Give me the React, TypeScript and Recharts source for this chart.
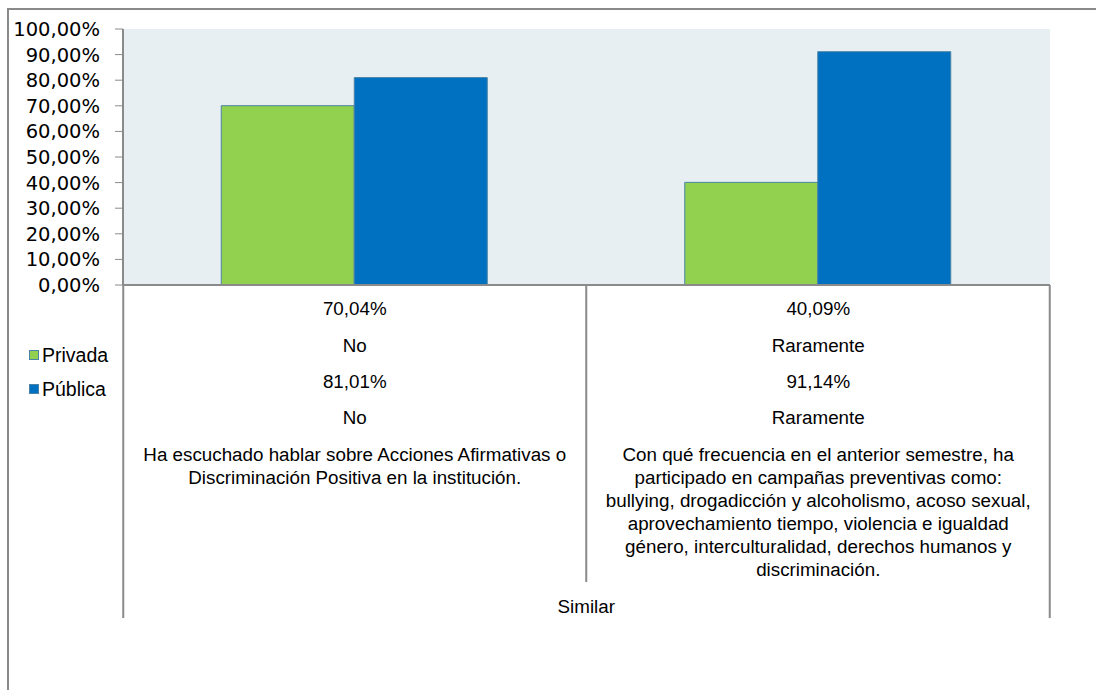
import { BarChart, Bar, XAxis, YAxis, CartesianGrid } from 'recharts'

const categories = ['Acciones Afirmativas', 'Campañas preventivas']
const privada = [70.04, 40.09]
const publica = [81.01, 91.14]
const privadaAnswer = ['No', 'Raramente']
const publicaAnswer = ['No', 'Raramente']
const questionLines = [
  [
    'Ha escuchado hablar sobre Acciones Afirmativas o',
    'Discriminación Positiva en la institución.',
  ],
  [
    'Con qué frecuencia en el anterior semestre, ha',
    'participado en campañas preventivas como:',
    'bullying, drogadicción y alcoholismo, acoso sexual,',
    'aprovechamiento tiempo, violencia e igualdad',
    'género, interculturalidad, derechos humanos y',
    'discriminación.',
  ],
]
const groupLabel = 'Similar'
const yTicks = [0, 10, 20, 30, 40, 50, 60, 70, 80, 90, 100]

const data = categories.map((c, i) => ({
  name: c,
  privada: privada[i],
  publica: publica[i],
}))

const GREEN = '#92D050'
const BLUE = '#0070C0'
const EDGE = '#4A83A6'
const AXIS = '#8a8a8a'
const TEXT_FONT = '"Liberation Sans", Arial, sans-serif'
const TEXT_SIZE = 18.8

function fmtPct(v: number): string {
  return v.toFixed(2).replace('.', ',') + '%'
}

// half of one category band (plot width / 2 / 2)
const HALF_BAND = 231.5

function TableTick(props: any) {
  const { x, y, payload } = props
  const i: number = payload.index
  const last = i === categories.length - 1
  const rows = [fmtPct(privada[i]), privadaAnswer[i], fmtPct(publica[i]), publicaAnswer[i]]
  const rowY = [23, 60, 96, 132]
  const t = { fontFamily: TEXT_FONT, fontSize: TEXT_SIZE, fill: '#000', textAnchor: 'middle' as const, dominantBaseline: 'central' as const }
  return (
    <g>
      {i === 0 && <line x1={x - HALF_BAND} x2={x - HALF_BAND} y1={y} y2={y + 333} stroke={AXIS} strokeWidth={2} />}
      <line x1={x + HALF_BAND} x2={x + HALF_BAND} y1={y} y2={y + (last ? 333 : 297)} stroke={AXIS} strokeWidth={2} />
      {rows.map((r, k) => (
        <text key={k} x={x} y={y + rowY[k]} {...t}>{r}</text>
      ))}
      {questionLines[i].map((l, k) => (
        <text key={'q' + k} x={x} y={y + 169 + k * 23} {...t}>{l}</text>
      ))}
      {i === 0 && (
        <text x={x + HALF_BAND} y={y + 321} {...t}>{groupLabel}</text>
      )}
    </g>
  )
}

function LegendBox() {
  const items = [
    { label: 'Privada', color: GREEN },
    { label: 'Pública', color: BLUE },
  ]
  return (
    <div style={{ position: 'absolute', left: 29, top: 338, fontFamily: TEXT_FONT, fontSize: 19.5, color: '#000' }}>
      {items.map((it) => (
        <div key={it.label} style={{ display: 'flex', alignItems: 'center', height: 34 }}>
          <span style={{ display: 'inline-block', width: 8, height: 8, background: it.color, border: `1px solid ${EDGE}`, marginRight: 3 }} />
          {it.label}
        </div>
      ))}
    </div>
  )
}

export default function App() {
  return (
    <div style={{ position: 'absolute', left: 0, top: 0, width: 1096, height: 690, overflow: 'hidden', background: '#fff' }}>
      <div style={{ position: 'absolute', left: 7, top: 8, width: 1200, height: 800, borderTop: `2px solid ${AXIS}`, borderLeft: `2px solid ${AXIS}` }} />
      <BarChart
        width={1096}
        height={690}
        data={data}
        margin={{ top: 29, right: 46, left: 8, bottom: 0 }}
        barCategoryGap="21.2%"
        barGap={0}
      >
        <CartesianGrid horizontal={false} vertical={false} fill="#E8EFF2" />
        <XAxis
          dataKey="name"
          height={405}
          tickLine={false}
          tickSize={0}
          tickMargin={0}
          axisLine={{ stroke: AXIS, strokeWidth: 2 }}
          tick={<TableTick />}
          interval={0}
        />
        <YAxis
          width={115}
          domain={[0, 100]}
          ticks={yTicks}
          interval={0}
          tickFormatter={fmtPct}
          tickSize={8}
          tickMargin={15}
          tickLine={{ stroke: AXIS }}
          axisLine={{ stroke: AXIS, strokeWidth: 2 }}
          tick={{ fill: '#000', fontSize: 19.5, fontFamily: '"DejaVu Sans", Verdana, sans-serif' }}
        />
        <Bar dataKey="privada" name="Privada" fill={GREEN} stroke={EDGE} strokeWidth={1} isAnimationActive={false} />
        <Bar dataKey="publica" name="Pública" fill={BLUE} stroke={EDGE} strokeWidth={1} isAnimationActive={false} />
      </BarChart>
      <LegendBox />
    </div>
  )
}
